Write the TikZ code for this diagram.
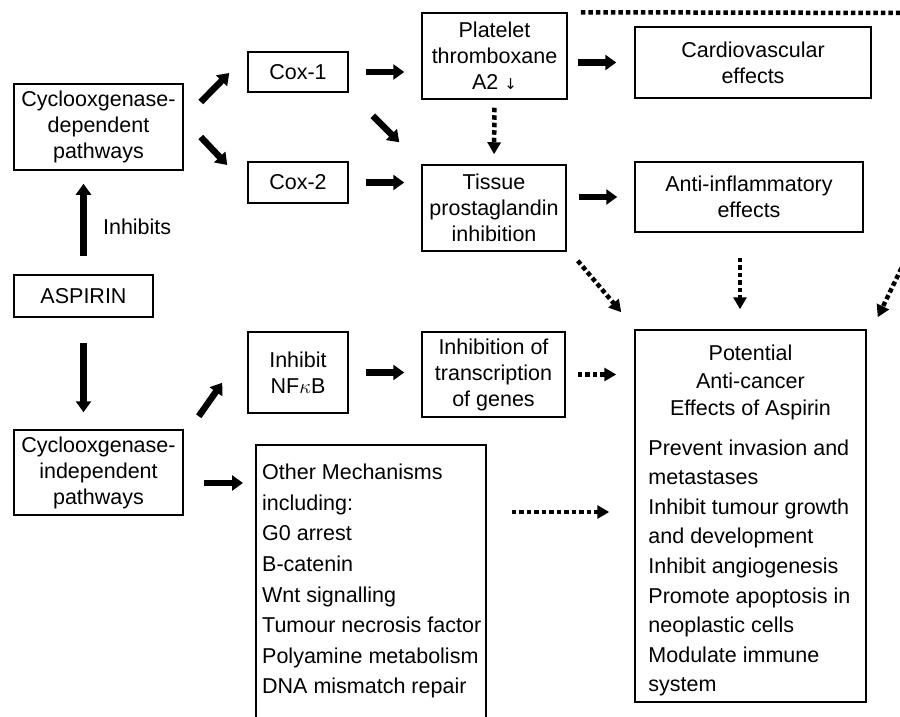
\documentclass[tikz,border=0pt]{standalone}
\usepackage{fontspec}
\setmainfont{Liberation Sans}
\newfontfamily\arrowfont{DejaVu Sans}
\usetikzlibrary{positioning, arrows.meta, calc}
\tikzstyle{int}=[draw, line width=1.5pt, align=center, inner sep=0pt, font=\fontsize{21.5}{26}\selectfont]
\tikzstyle{lst}=[align=left, inner sep=0pt, anchor=north west]
\tikzstyle{arr}=[-{Triangle[length=11pt,width=15pt]}, line width=6.5pt]
\tikzstyle{dots}=[-{Triangle[length=12pt,width=13pt]}, line width=4.5pt, dash pattern=on 4.5pt off 3pt]

\begin{document}
\begin{tikzpicture}[x=1pt, y=-1pt, node distance=110.5pt]
                    \useasboundingbox (0,0) rectangle (900,717);
                    % left column
                    \node [int, minimum width=169pt, minimum height=86pt] (dep) at (98.5,127) {Cyclooxgenase-\\dependent\\pathways};
                    \node [int, minimum width=139pt, minimum height=42pt] (asp) at (83.5,296) {ASPIRIN};
                    \node [int, minimum width=169pt, minimum height=85pt] (indep) at (98.5,472.5) {Cyclooxgenase-\\independent\\pathways};
                    % cox column
                    \node [int, minimum width=100pt, minimum height=40pt] (cox1) at (298,72) {Cox-1};
                    \node [int, minimum width=100pt, minimum height=41pt] (cox2) [below of=cox1] {Cox-2};
                    \node [int, minimum width=100pt, minimum height=81pt] (nfkb) [below of=cox2, node distance=190pt] {Inhibit\\NF$\kappa$B};
                    % middle column
                    \node [int, minimum width=145pt, minimum height=86pt] (plat) at (494.5,56) {Platelet\\thromboxane\\A2 {\arrowfont\fontsize{15}{15}\selectfont ↓}};
                    \node [int, minimum width=144pt, minimum height=86pt] (tis) at (494,208) {Tissue\\prostaglandin\\inhibition};
                    \node [int, minimum width=143pt, minimum height=85pt] (trans) at (493.5,374.5) {Inhibition of\\transcription\\of genes};
                    \node [draw, line width=1.5pt, minimum width=230pt, minimum height=320pt, inner sep=0pt, anchor=north west] (other) at (255,444) {};
                    \node [lst, font=\fontsize{21.5}{30.6}\selectfont] (othtxt) at ($(other.north west)+(7,20)$) {Other Mechanisms\\including:\\G0 arrest\\B-catenin\\Wnt signalling\\Tumour necrosis factor\\Polyamine metabolism\\DNA mismatch repair};
                    % right column
                    \node [int, minimum width=236pt, minimum height=71pt] (card) at (753,62.5) {Cardiovascular\\effects};
                    \node [int, minimum width=228pt, minimum height=70pt] (anti) at (749,197) {Anti-inflammatory\\effects};
                    \node [int, minimum width=231pt, minimum height=372pt] (pot) at (750.5,516) {};
                    \node [int, draw=none, font=\fontsize{21.5}{27.5}\selectfont, anchor=north] (pothead) at ($(pot.north)+(0,15)$) {Potential\\Anti-cancer\\Effects of Aspirin};
                    \node [lst, font=\fontsize{21.5}{29.6}\selectfont] (potlist) at ($(pot.north west)+(14,110)$) {Prevent invasion and\\metastases\\Inhibit tumour growth\\and development\\Inhibit angiogenesis\\Promote apoptosis in\\neoplastic cells\\Modulate immune\\system};
                    \coordinate (loopa) at (915,13);
                    \coordinate (loopb) at (915,240);
                    % solid arrows
                    \draw [arr, shorten <=18pt, shorten >=13pt] (asp.north) -- (asp.north |- dep.south) node [midway, right=13pt, yshift=-4pt, font=\fontsize{21.5}{26}\selectfont] {Inhibits};
                    \draw [arr, shorten <=25pt, shorten >=17pt] (asp.south) -- (asp.south |- indep.north);
                    \draw [arr] ($(dep.east)+(17,-25)$) -- ($(cox1.west)+(-18,1)$);
                    \draw [arr] ($(dep.east)+(17,10)$) -- ($(cox2.west)+(-20,-17.5)$);
                    \draw [arr, shorten <=17pt, shorten >=17pt] (cox1.east) -- (cox1.east -| plat.west);
                    \draw [arr, shorten <=17pt, shorten >=17pt] (cox2.east) -- (cox2.east -| tis.west);
                    \draw [arr] ($(cox1.south east)+(24,23)$) -- ($(tis.north west)+(-22,-22)$);
                    \draw [arr, shorten <=10pt, shorten >=18pt] (card.west -| plat.east) -- (card.west);
                    \draw [arr, shorten <=12pt, shorten >=17pt] (anti.west -| tis.east) -- (anti.west);
                    \draw [arr] ($(indep.north east)+(15,-13)$) -- ($(nfkb.south west)+(-25,-31)$);
                    \draw [arr, shorten <=17pt, shorten >=17pt] (nfkb.east) -- (nfkb.east -| trans.west);
                    \draw [arr] ($(indep.east)+(20,10.5)$) -- ($(indep.east -| other.west)+(-12,10.5)$);
                    % dotted arrows
                    \draw [dots, shorten <=8pt, shorten >=10pt] (plat.south) -- (tis.north);
                    \draw [dots] ($(tis.south east)+(11,9)$) -- ($(pot.north west)+(-13,-17)$);
                    \draw [dots] ($(anti.south)+(-9,25)$) -- ($(pot.north)+(-10.5,-20)$);
                    \draw [dots, shorten <=12pt, shorten >=18pt] (trans.east) -- (trans.east -| pot.west);
                    \draw [dots] ($(other.north east)+(25,68)$) -- ($(other.north east -| pot.west)+(-25,68)$);
                    \draw [dots] ($(plat.north east)+(13,0)$) -- (loopa) -- (loopb) -- ($(pot.north east)+(11,-12)$);
                \end{tikzpicture}
\end{document}
